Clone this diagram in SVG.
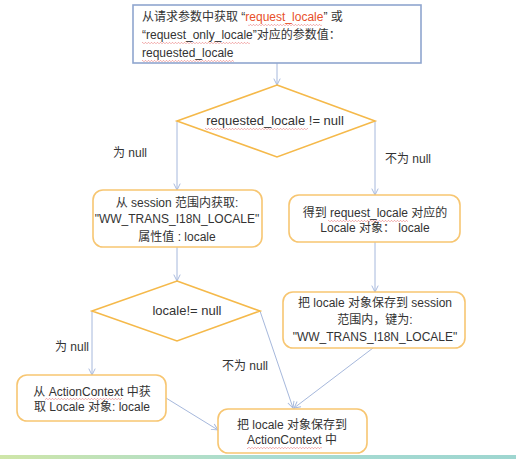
<svg xmlns="http://www.w3.org/2000/svg" width="516" height="459" viewBox="0 0 516 459">
<style>
  text { font-family: "Liberation Sans", "Noto Sans CJK SC", sans-serif; font-size: 12px; fill: #333333; }
  .c { text-anchor: middle; }
  .red { fill: #e8502a; }
  .box { fill: #ffffff; stroke: #f7c672; stroke-width: 1.6; }
  .dia { fill: #ffffff; stroke: #f5b94a; stroke-width: 1.6; }
  .top { fill: #ffffff; stroke: #8fa6cf; stroke-width: 1.6; }
  .conn line, .conn polyline { stroke: #a6b8dc; stroke-width: 1; fill: none; marker-end: url(#arr); }
  .sq { fill: url(#wave); }
</style>
<defs>
  <marker id="arr" viewBox="0 0 10 10" refX="9" refY="5" markerWidth="8" markerHeight="8" orient="auto" markerUnits="userSpaceOnUse">
    <polyline points="1,1 9,5 1,9" fill="none" stroke="#a6b8dc" stroke-width="1.2"/>
  </marker>
  <pattern id="wave" width="3" height="2" patternUnits="userSpaceOnUse">
    <path d="M0,1.8 L1.5,0.3 L3,1.8" fill="none" stroke="#e86a6a" stroke-width="0.6"/>
  </pattern>
  <linearGradient id="stripe" x1="0" y1="0" x2="1" y2="0">
    <stop offset="0" stop-color="#cfe6a8"/>
    <stop offset="0.5" stop-color="#a8dcd2"/>
    <stop offset="1" stop-color="#9ed6d0"/>
  </linearGradient>
</defs>
<rect width="516" height="459" fill="#ffffff"/>

<g class="conn" id="connectors">
  <line x1="277" y1="63" x2="277" y2="85"/>
  <line x1="177" y1="121" x2="177" y2="190"/>
  <line x1="375" y1="121" x2="375" y2="195"/>
  <line x1="177" y1="247" x2="177" y2="281"/>
  <line x1="375" y1="242" x2="375" y2="292"/>
  <line x1="92" y1="311" x2="92" y2="375"/>
  <line x1="260" y1="311" x2="293" y2="408"/>
  <line x1="373" y1="348" x2="294" y2="408"/>
  <line x1="166" y1="398" x2="218" y2="430"/>
</g>

<g id="labels">
  <text class="c" x="130" y="157">为 null</text>
  <text class="c" x="408" y="163">不为 null</text>
  <text class="c" x="72" y="351">为 null</text>
  <text class="c" x="245" y="370">不为 null</text>
</g>

<g id="start">
  <rect class="top" x="133" y="5" width="288" height="58"/>
  <text x="142" y="21">从请求参数中获取 “<tspan class="red">request_locale</tspan>” 或</text>
  <text x="142" y="39">“request_only_locale”对应的参数值：</text>
  <text x="142" y="57">requested_locale</text>
  <rect class="sq" x="248" y="24" width="74" height="2"/>
  <rect class="sq" x="142" y="42" width="108" height="2"/>
  <rect class="sq" x="142" y="60" width="92" height="2"/>
</g>

<g id="decision1">
  <polygon class="dia" points="277,85 375,121 277,157 177,121"/>
  <text class="c" x="275" y="125" style="font-size:13px">requested_locale != null</text>
  <rect class="sq" x="205" y="128" width="103" height="2"/>
</g>

<g id="session-get">
  <rect class="box" x="93" y="190" width="169" height="57" rx="10"/>
  <text class="c" x="177" y="207">从 session 范围内获取:</text>
  <text class="c" x="177" y="223">"WW_TRANS_I18N_LOCALE"</text>
  <text class="c" x="177" y="241">属性值 : locale</text>
</g>

<g id="request-get">
  <rect class="box" x="289" y="195" width="171" height="47" rx="10"/>
  <text class="c" x="375" y="217">得到 request_locale 对应的</text>
  <text class="c" x="375" y="232">Locale 对象： locale</text>
  <rect class="sq" x="328" y="220" width="80" height="2"/>
</g>

<g id="decision2">
  <polygon class="dia" points="177,281 260,311 177,341 92,311"/>
  <text class="c" x="187" y="315" style="font-size:13px">locale!= null</text>
</g>

<g id="session-save">
  <rect class="box" x="283" y="292" width="182" height="56" rx="10"/>
  <text class="c" x="375" y="307">把 locale 对象保存到 session</text>
  <text class="c" x="375" y="324">范围内，键为:</text>
  <text class="c" x="375" y="341">"WW_TRANS_I18N_LOCALE"</text>
</g>

<g id="actioncontext-get">
  <rect class="box" x="17" y="375" width="149" height="46" rx="10"/>
  <text class="c" x="92" y="396">从 ActionContext 中获</text>
  <text class="c" x="92" y="411">取 Locale 对象: locale</text>
  <rect class="sq" x="45" y="398" width="77" height="2"/>
</g>

<g id="actioncontext-save">
  <rect class="box" x="218" y="409" width="149" height="44" rx="10"/>
  <text class="c" x="292" y="429">把 locale 对象保存到</text>
  <text class="c" x="292" y="444">ActionContext 中</text>
  <rect class="sq" x="247" y="447" width="75" height="2"/>
</g>

<rect x="0" y="455" width="516" height="4" fill="url(#stripe)"/>
</svg>
